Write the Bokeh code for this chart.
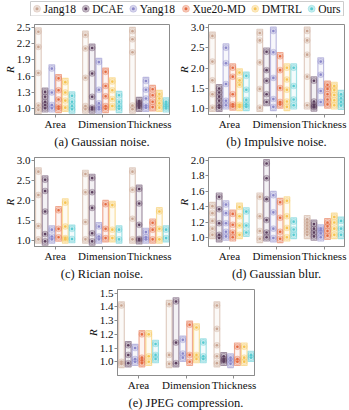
from bokeh.plotting import figure
from bokeh.layouts import column, row
from bokeh.models import (Range1d, FixedTicker, ColumnDataSource, PrintfTickFormatter, AllLabels,
                          Spacer)
from bokeh.core.properties import value
from bokeh.embed import file_html
from bokeh.resources import INLINE

METHODS = ["Jang18", "DCAE", "Yang18", "Xue20-MD", "DMTRL", "Ours"]
COLORS = ["#c9a592", "#5c3f5e", "#8b87c9", "#e46a40", "#f6c452", "#58cbd1"]
GROUPS = ["Area", "Dimension", "Thickness"]

# values per method: [Area points, Dimension points, Thickness points]
# (a) Gaussian noise
GN_JANG18 = [[2.42, 2.14, 1.66, 1.06, 0.98], [2.36, 2.11, 1.57, 1.05, 0.99], [2.43, 2.28, 2.04, 1.06, 0.99]]
GN_DCAE = [[1.31, 1.22, 1.13, 1.07, 1.01], [2.12, 1.65, 1.22, 1.02, 0.99], [1.14, 1.11, 1.08, 1.05, 1.02]]
GN_YANG18 = [[1.74, 1.30, 1.07, 1.01], [1.86, 1.35, 1.10, 1.03, 0.99], [1.51, 1.35, 1.19, 1.06, 1.02]]
GN_XUE20 = [[1.56, 1.34, 1.17, 1.04, 1.00], [1.68, 1.42, 1.23, 1.05, 1.00], [1.36, 1.25, 1.13, 1.03]]
GN_DMTRL = [[1.49, 1.30, 1.15, 1.02], [1.50, 1.34, 1.18, 1.05], [1.27, 1.19, 1.10, 1.02]]
GN_OURS = [[1.24, 1.13, 1.05, 0.99], [1.25, 1.13, 1.05, 1.00], [1.13, 1.08, 1.04, 1.01]]

# (b) Impulsive noise
IN_JANG18 = [[2.79, 2.16, 1.70, 1.36, 1.03], [2.86, 2.68, 2.14, 1.49, 1.03], [2.91, 2.68, 2.33, 1.79, 1.09]]
IN_DCAE = [[1.50, 1.40, 1.30, 1.20, 1.09, 1.03], [2.40, 1.95, 1.69, 1.36, 1.17], [1.69, 1.18, 1.10, 1.06, 1.04]]
IN_YANG18 = [[2.50, 2.12, 1.61, 1.20, 1.09], [2.91, 2.39, 1.76, 1.24, 1.05], [2.16, 1.84, 1.44, 1.17]]
IN_XUE20 = [[2.01, 1.79, 1.36, 1.11, 1.06], [2.29, 1.95, 1.51, 1.17, 1.11], [1.59, 1.49, 1.36, 1.23, 1.11]]
IN_DMTRL = [[1.89, 1.70, 1.59, 1.10, 1.05], [2.01, 1.72, 1.47, 1.18, 1.05], [1.56, 1.46, 1.34, 1.21, 1.09]]
IN_OURS = [[1.81, 1.47, 1.22, 1.11, 1.05], [2.01, 1.56, 1.23, 1.09], [1.36, 1.26, 1.17, 1.08]]

# (c) Rician noise
RN_JANG18 = [[2.72, 2.14, 1.37, 1.04], [2.66, 2.21, 1.47, 1.04], [2.72, 2.27, 1.55, 1.04]]
RN_DCAE = [[2.52, 2.24, 1.73, 1.17, 0.99], [2.56, 2.21, 1.82, 1.19, 0.99], [2.29, 1.93, 1.40, 1.05, 1.02]]
RN_YANG18 = [[1.28, 1.11, 1.04], [1.36, 1.11, 1.04], [1.22, 1.09, 1.04]]
RN_XUE20 = [[1.76, 1.30, 1.09], [1.91, 1.30, 1.07], [1.45, 1.28, 1.04]]
RN_DMTRL = [[1.95, 1.36, 1.07, 1.04], [1.89, 1.28, 1.07], [1.73, 1.30, 1.04]]
RN_OURS = [[1.30, 1.05], [1.28, 1.04], [1.28, 1.07]]

# (d) Gaussian blur
GB_JANG18 = [[1.41, 1.32, 1.22, 1.12, 1.04], [1.53, 1.28, 1.09, 0.99], [1.24, 1.20, 1.16, 1.12, 1.08, 1.04]]
GB_DCAE = [[1.53, 1.37, 1.19, 1.04, 1.00], [1.96, 1.77, 1.50, 1.23, 1.07, 1.01], [1.18, 1.12, 1.07, 1.02]]
GB_YANG18 = [[1.43, 1.32, 1.19, 1.08, 1.02], [1.55, 1.33, 1.12, 1.00], [1.12, 1.10, 1.06, 1.01]]
GB_XUE20 = [[1.31, 1.17, 1.07, 1.01], [1.46, 1.26, 1.08, 0.99], [1.20, 1.15, 1.09, 1.03]]
GB_DMTRL = [[1.40, 1.28, 1.16, 1.04], [1.48, 1.28, 1.13, 1.01], [1.27, 1.20, 1.12, 1.04]]
GB_OURS = [[1.34, 1.16, 1.07], [1.21, 1.11, 1.04], [1.22, 1.12, 1.04]]

# (e) JPEG compression
JC_JANG18 = [[1.41, 1.00, 0.985], [1.42, 1.05, 0.985], [1.41, 1.24, 1.12, 1.04, 0.99]]
JC_DCAE = [[1.12, 1.05, 0.99], [1.44, 1.14, 0.99], [1.04, 1.02, 1.01, 1.00]]
JC_YANG18 = [[1.10, 1.02, 1.00], [1.16, 1.06, 1.03], [1.03, 1.01, 0.985]]
JC_XUE20 = [[1.20, 1.03, 1.01, 0.99], [1.27, 1.05, 1.00], [1.11, 1.02, 1.00]]
JC_DMTRL = [[1.20, 1.04, 1.00], [1.25, 1.05, 1.02], [1.11, 1.03, 1.00]]
JC_OURS = [[1.13, 1.05, 1.02], [1.14, 1.04, 1.02], [1.05, 1.03]]

GN = [GN_JANG18, GN_DCAE, GN_YANG18, GN_XUE20, GN_DMTRL, GN_OURS]
IN = [IN_JANG18, IN_DCAE, IN_YANG18, IN_XUE20, IN_DMTRL, IN_OURS]
RN = [RN_JANG18, RN_DCAE, RN_YANG18, RN_XUE20, RN_DMTRL, RN_OURS]
GB = [GB_JANG18, GB_DCAE, GB_YANG18, GB_XUE20, GB_DMTRL, GB_OURS]
JC = [JC_JANG18, JC_DCAE, JC_YANG18, JC_XUE20, JC_DMTRL, JC_OURS]

TICKS_A = [1.0, 1.3, 1.6, 1.9, 2.2, 2.5]
TICKS_B = [1.0, 1.5, 2.0, 2.5, 3.0]
TICKS_C = [1.0, 1.5, 2.0, 2.5, 3.0]
TICKS_D = [1.0, 1.2, 1.4, 1.6, 1.8, 2.0]
TICKS_E = [1.0, 1.1, 1.2, 1.3, 1.4, 1.5]

SERIF = "Liberation Serif"
GREY = "#8c8c8c"
TXT = "#111111"
STRIDE = 0.143
BAR_W = 0.12
X0, X1 = -0.44, 2.43

# Times / Liberation Serif advance widths (per 1000 em) for legend layout
ADV = {"J": 389, "a": 444, "n": 500, "g": 500, "1": 500, "8": 500, "D": 722, "C": 667,
       "A": 722, "E": 611, "Y": 722, "X": 722, "u": 500, "e": 444, "2": 500, "0": 500,
       "-": 333, "M": 889, "T": 611, "R": 667, "L": 611, "O": 722, "r": 333, "s": 389}


def panel(series, y0, y1, ticks, caption, left, fw, right, top, fh, bottom, top_gap=3.0):
    ytop = y1 + (y1 - y0) / fh * top_gap
    p = figure(width=left + fw + right, height=top + fh + bottom,
               x_range=Range1d(X0, X1), y_range=Range1d(y0, ytop),
               output_backend="svg", toolbar_location=None,
               min_border_left=left, min_border_right=right,
               min_border_top=top, min_border_bottom=bottom,
               title=caption, title_location="below")
    p.grid.visible = False
    p.outline_line_color = GREY
    p.outline_line_width = 1
    p.title.align = "center"
    p.title.text_font = SERIF
    p.title.text_font_size = "12.5px"
    p.title.text_font_style = "normal"
    p.title.text_color = TXT
    p.title.standoff = 1
    for ax in (p.xaxis[0], p.yaxis[0]):
        ax.axis_line_color = GREY
        ax.major_tick_line_color = GREY
        ax.major_tick_out = 3
        ax.major_tick_in = 0
        ax.minor_tick_line_color = None
        ax.major_label_text_font = SERIF
        ax.major_label_text_font_size = "11px"
        ax.major_label_text_color = TXT
        ax.major_label_standoff = 1
        ax.major_label_policy = AllLabels()
    ya = p.yaxis[0]
    ya.ticker = FixedTicker(ticks=ticks)
    ya.formatter = PrintfTickFormatter(format="%.1f")
    ya.axis_label = "R"
    ya.axis_label_text_font = SERIF
    ya.axis_label_text_font_style = "italic"
    ya.axis_label_text_font_size = "11px"
    ya.axis_label_text_color = TXT
    ya.axis_label_standoff = -2
    xa = p.xaxis[0]
    xa.ticker = FixedTicker(ticks=[0, 1, 2])
    xa.major_label_overrides = {i: g for i, g in enumerate(GROUPS)}
    xa.major_label_standoff = 0

    pad = (y1 - y0) / fh * 4.0
    for mi, (vals, col) in enumerate(zip(series, COLORS)):
        bl, br, bb, bt = [], [], [], []
        px, py = [], []
        for gi, pts in enumerate(vals):
            xc = gi + (mi - 2.5) * STRIDE
            bl.append(xc - BAR_W / 2)
            br.append(xc + BAR_W / 2)
            bb.append(min(pts) - pad)
            bt.append(max(pts) + pad)
            for v in pts:
                px.append(xc)
                py.append(v)
        p.quad(left=bl, right=br, bottom=bb, top=bt, fill_color=col, fill_alpha=0.07,
               line_color=col, line_alpha=0.55, line_width=1.2)
        src = ColumnDataSource(dict(x=px, y=py))
        p.scatter("x", "y", source=src, size=6, fill_color=col, fill_alpha=0.3,
                  line_color=col, line_alpha=0.45, line_width=0.6)
        p.scatter("x", "y", source=src, size=2.6, fill_color=col, fill_alpha=1.0,
                  line_color=None)
    return p


# legend strip drawn in pixel-like coordinates (y measured upward)
LW, LH = 349, 16
leg = figure(width=LW, height=LH, x_range=Range1d(0, LW), y_range=Range1d(0, LH),
             x_axis_type=None, y_axis_type=None, output_backend="svg",
             toolbar_location=None, min_border=0, outline_line_color=None)
leg.grid.visible = False
FS = 11.5
box_l, box_r, box_b, box_t = 30, 343, 0.5, 15
widths = [sum(ADV[ch] for ch in m) / 1000 * FS for m in METHODS]
gap = ((box_r - box_l) - 6 - 6 * 10 - sum(widths)) / 5
leg.quad(left=[box_l], right=[box_r], bottom=[box_b], top=[box_t], fill_color="white",
         line_color="#cccccc", line_width=1)
mx, tx = [], []
cur = box_l + 3
for w in widths:
    mx.append(cur + 3.5)
    tx.append(cur + 10)
    cur += 10 + w + gap
ymid = (box_b + box_t) / 2
leg.scatter(mx, [ymid] * 6, size=7, fill_color=COLORS, fill_alpha=0.35, line_color=COLORS,
            line_alpha=0.5, line_width=0.6)
leg.scatter(mx, [ymid] * 6, size=3, fill_color=COLORS, line_color=None)
leg.text(tx, [ymid] * 6, text=METHODS, text_font=value(SERIF), text_font_size=value(f"{FS}px"),
         text_baseline="middle", text_align="left", text_color=TXT)

pa = panel(GN, 0.894, 2.5, TICKS_A, "(a) Gaussian noise.", 29, 140, 5, 8, 92, 33)
pb = panel(IN, 0.862, 3.0, TICKS_B, "(b) Impulsive noise.", 31, 139, 5, 8, 92, 33)
pc = panel(RN, 0.862, 3.0, TICKS_C, "(c) Rician noise.", 29, 140, 5, 8, 90, 34)
pd = panel(GB, 0.89, 2.0, TICKS_D, "(d) Gaussian blur.", 32, 138, 5, 8, 90, 34)
pe = panel(JC, 0.90, 1.5, TICKS_E, "(e) JPEG compression.", 29, 142, 10, 8, 89, 32, top_gap=4.0)

layout = column(row(leg), row(pa, pb), row(pc, pd),
                row(Spacer(width=83, height=129), pe))

open("out.html", "w").write(file_html(layout, INLINE))
